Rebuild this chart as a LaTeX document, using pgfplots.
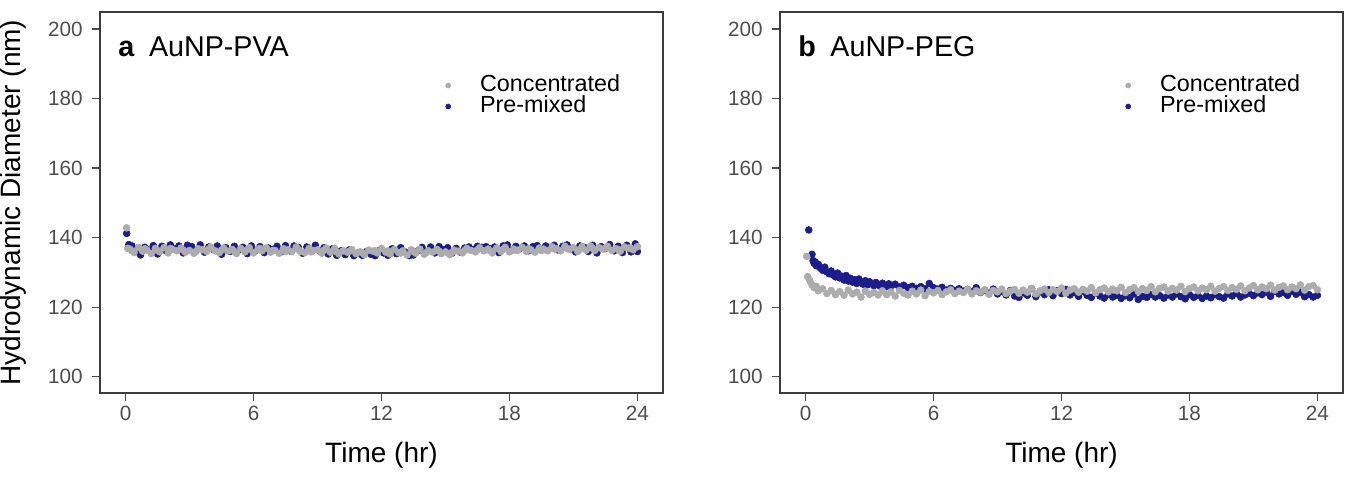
\documentclass[border=0pt]{standalone}
\usepackage{fontspec}
\setmainfont{Liberation Sans}
\usepackage{pgfplots}
\pgfplotsset{compat=1.18}
\definecolor{ptgray}{RGB}{172,172,172}
\definecolor{ptblue}{RGB}{28,28,140}
\definecolor{framec}{RGB}{60,60,60}
\definecolor{tickc}{RGB}{77,77,77}
\pgfplotsset{
  panel/.style={
    scale only axis, width=422.25pt, height=285.75pt,
    xmin=-1.2, xmax=25.2, ymin=95.3, ymax=204.9,
    xtick={0,6,12,18,24}, ytick={100,120,...,200},
    axis line style={framec, line width=0.9pt},
    tick style={tickc, line width=0.9pt},
    tick align=outside, major tick length=6pt, tick pos=left,
    ticklabel style={font=\fontsize{15.5}{15.5}\selectfont, text=tickc},
    yticklabel style={xshift=-3.5pt},
    /pgf/number format/assume math mode=true,
    xlabel={Time (hr)},
    xlabel style={font=\fontsize{21}{21}\selectfont, at={(axis description cs:0.5,-0.1811)}, anchor=base},
    legend cell align=left,
    legend image code/.code={\draw[#1] plot coordinates {(0pt,0pt)};},
    legend style={draw=none, fill=none, inner sep=0pt, outer sep=0pt,
      font=\fontsize{17.5}{17.5}\selectfont, row sep=0pt,
      nodes={inner sep=0pt, text height=12.5pt, text depth=3.25pt},
      /tikz/every odd column/.append style={column sep=22pt},
      at={(rel axis cs:0.614,0.8346)}, anchor=north west},
  },
  cser/.style={only marks, mark=*, mark size=2.6pt, color=ptgray},
  pser/.style={only marks, mark=*, mark size=2.6pt, color=ptblue},
}
\begin{document}
\begin{tikzpicture}
\useasboundingbox (0,0) rectangle (1014.75pt,359.25pt);
% ---------------- panel a ----------------
\begin{axis}[panel, at={(75pt,64.5pt)}, anchor=south west,
  ylabel={Hydrodynamic Diameter (nm)},
  ylabel style={font=\fontsize{21}{21}\selectfont, at={(axis description cs:-0.1409,0.5)}, anchor=base}]
\addlegendimage{cser, mark size=1.9pt}
\addlegendentry{Concentrated}
\addlegendimage{pser, mark size=1.9pt}
\addlegendentry{Pre-mixed}
\addplot[pser, forget plot] coordinates {
(0.05,141.2)(0.15,138.0)(0.3,137.6)(0.5,136.0)(0.7,135.0)(0.9,137.2)(1.1,136.4)(1.3,137.7)(1.5,135.3)(1.7,137.5)
(1.9,136.2)(2.1,137.9)(2.3,136.8)(2.5,137.6)(2.7,135.6)(2.9,137.8)(3.1,137.4)(3.3,136.3)(3.5,137.9)(3.7,135.8)
(3.9,137.3)(4.1,136.6)(4.3,137.6)(4.5,135.2)(4.7,137.1)(4.9,136.0)(5.1,137.5)(5.3,136.5)(5.5,137.2)(5.7,135.4)
(5.9,137.6)(6.1,136.3)(6.3,137.4)(6.5,135.7)(6.7,137.0)(6.9,136.6)(7.1,137.5)(7.3,135.9)(7.5,137.7)(7.7,136.2)
(7.9,137.6)(8.1,137.2)(8.3,135.5)(8.5,137.3)(8.7,136.4)(8.9,137.8)(9.1,136.1)(9.3,137.1)(9.5,135.3)(9.7,136.8)
(9.9,134.9)(10.1,136.2)(10.3,135.1)(10.5,136.5)(10.7,134.8)(10.9,135.6)(11.1,134.9)(11.3,136.0)(11.5,135.2)(11.7,134.8)
(11.9,136.3)(12.1,135.6)(12.3,134.9)(12.5,136.8)(12.7,135.4)(12.9,137.1)(13.1,135.9)(13.3,134.8)(13.5,135.0)(13.7,136.2)
(13.9,137.2)(14.1,136.0)(14.3,137.3)(14.5,135.6)(14.7,137.4)(14.9,136.5)(15.1,137.1)(15.3,135.5)(15.5,136.9)(15.7,135.8)
(15.9,137.0)(16.1,137.3)(16.3,136.6)(16.5,137.5)(16.7,137.2)(16.9,137.4)(17.1,136.8)(17.3,137.3)(17.5,135.7)(17.7,137.6)
(17.9,137.9)(18.1,136.4)(18.3,137.5)(18.5,136.9)(18.7,137.6)(18.9,136.2)(19.1,137.4)(19.3,137.7)(19.5,136.5)(19.7,137.6)
(19.9,137.2)(20.1,137.8)(20.3,136.4)(20.5,137.5)(20.7,137.9)(20.9,136.8)(21.1,135.9)(21.3,137.6)(21.5,137.2)(21.7,136.0)
(21.9,137.8)(22.1,135.6)(22.3,137.4)(22.5,136.9)(22.7,138.0)(22.9,136.2)(23.1,137.5)(23.3,135.7)(23.5,137.8)(23.7,135.9)
(23.9,138.2)(24.0,136.0)
};
\addplot[cser, forget plot] coordinates {
(0.05,142.8)(0.1,136.9)(0.2,136.7)(0.4,135.7)(0.6,137.2)(0.8,136.1)(1.0,136.4)(1.2,135.4)(1.4,136.9)(1.6,135.9)
(1.8,137.1)(2.0,135.6)(2.2,136.6)(2.4,136.2)(2.6,137.0)(2.8,135.8)(3.0,136.3)(3.2,135.5)(3.4,136.8)(3.6,136.5)
(3.8,136.0)(4.0,137.3)(4.2,136.2)(4.4,135.7)(4.6,137.0)(4.8,136.1)(5.0,136.6)(5.2,135.4)(5.4,136.9)(5.6,135.9)
(5.8,137.1)(6.0,135.6)(6.2,136.6)(6.4,136.2)(6.6,137.0)(6.8,135.8)(7.0,136.3)(7.2,135.5)(7.4,136.8)(7.6,136.5)
(7.8,136.0)(8.0,137.3)(8.2,136.0)(8.4,135.7)(8.6,136.9)(8.8,136.3)(9.0,136.5)(9.2,135.5)(9.4,137.0)(9.6,135.8)
(9.8,136.9)(10.0,135.3)(10.2,136.2)(10.4,135.8)(10.6,136.6)(10.8,135.4)(11.0,135.9)(11.2,135.1)(11.4,136.4)(11.6,136.1)
(11.8,135.6)(12.0,136.9)(12.2,135.8)(12.4,135.3)(12.6,136.6)(12.8,135.7)(13.0,136.2)(13.2,135.0)(13.4,136.5)(13.6,135.5)
(13.8,136.7)(14.0,135.2)(14.2,136.2)(14.4,135.8)(14.6,136.6)(14.8,135.4)(15.0,135.9)(15.2,135.1)(15.4,136.4)(15.6,136.1)
(15.8,135.6)(16.0,136.9)(16.2,136.3)(16.4,135.9)(16.6,137.1)(16.8,136.2)(17.0,136.7)(17.2,135.6)(17.4,137.0)(17.6,136.0)
(17.8,137.2)(18.0,135.9)(18.2,136.7)(18.4,136.4)(18.6,137.2)(18.8,136.0)(19.0,136.5)(19.2,135.8)(19.4,137.0)(19.6,136.7)
(19.8,136.2)(20.0,137.4)(20.2,136.8)(20.4,136.2)(20.6,137.5)(20.8,136.6)(21.0,137.1)(21.2,136.0)(21.4,137.4)(21.6,136.4)
(21.8,137.6)(22.0,136.3)(22.2,137.1)(22.4,136.7)(22.6,137.5)(22.8,136.3)(23.0,136.8)(23.2,136.1)(23.4,137.3)(23.6,137.0)
(23.8,136.5)(24.0,137.4)
(0.3,136.2)(0.9,136.8)(1.5,136.3)(2.1,136.9)(2.7,136.4)(3.3,136.0)(3.9,136.7)(4.5,136.4)(5.1,136.0)(5.7,136.5)
(6.3,136.9)(6.9,136.3)(7.5,136.0)(8.1,136.6)(8.7,135.9)(9.3,136.4)(9.9,135.9)(10.5,136.1)(11.1,135.6)(11.7,136.2)
(12.3,136.2)(12.9,135.6)(13.5,136.0)(14.1,135.7)(14.7,136.1)(15.3,135.7)(15.9,136.3)(16.5,136.5)(17.1,136.2)(17.7,136.6)
(18.3,136.3)(18.9,136.8)(19.5,136.3)(20.1,136.7)(20.7,136.9)(21.3,136.6)(21.9,136.9)(22.5,137.0)(23.1,136.6)(23.7,136.9)
};
\node[anchor=base west, font=\fontsize{21.5}{21.5}\selectfont, inner sep=0pt, text=black] at (rel axis cs:0.032,0.8845) {\textbf{a}\hspace{11pt}AuNP-PVA};
\end{axis}
% ---------------- panel b ----------------
\begin{axis}[panel, at={(585pt,64.5pt)}, anchor=south west]
\addlegendimage{cser, mark size=1.9pt}
\addlegendentry{Concentrated}
\addlegendimage{pser, mark size=1.9pt}
\addlegendentry{Pre-mixed}
\addplot[pser, forget plot] coordinates {
(0.15,142.2)(0.3,135.2)(0.35,133.4)(0.4,132.6)(0.45,133.0)(0.5,131.9)(0.6,132.3)(0.7,131.2)(0.8,130.6)(0.9,131.5)
(1.0,130.1)(1.1,129.6)(1.2,130.4)(1.3,129.2)(1.4,128.7)(1.5,129.8)(1.6,128.4)(1.7,128.9)(1.8,127.8)(1.9,129.1)
(2.0,127.5)(2.1,128.3)(2.2,127.2)(2.3,127.9)(2.4,126.8)(2.5,128.1)(2.6,127.0)(2.7,126.6)(2.8,127.6)(2.9,126.4)
(3.0,127.3)(3.1,126.7)(3.2,126.2)(3.3,127.1)(3.4,126.5)(3.5,126.0)(3.6,126.9)(3.7,126.3)(3.8,125.9)(3.9,126.7)
(4.0,126.1)(4.2,126.6)(4.4,125.8)(4.6,126.3)(4.8,125.6)(5.0,126.0)(5.2,125.4)(5.4,125.9)(5.6,125.3)(5.8,126.8)
(6.0,125.6)(6.2,125.2)(6.4,125.7)(6.6,124.9)(6.8,125.4)(7.0,124.8)(7.2,125.3)(7.4,124.6)(7.6,125.1)(7.8,124.4)
(8.0,125.6)(8.2,124.2)(8.4,124.9)(8.6,124.0)(8.8,125.2)(9.0,123.8)(9.2,124.5)(9.4,123.5)(9.6,124.8)(9.8,123.2)
(10.0,122.8)(10.2,124.1)(10.4,123.4)(10.6,125.3)(10.8,123.0)(11.0,124.4)(11.2,123.6)(11.4,125.0)(11.6,123.3)(11.8,124.7)
(12.0,123.9)(12.2,125.1)(12.4,123.5)(12.6,124.2)(12.8,123.1)(13.0,124.6)(13.2,123.4)(13.4,122.8)(13.6,124.0)(13.8,123.2)
(14.0,122.6)(14.2,123.7)(14.4,122.9)(14.6,123.4)(14.8,122.5)(15.0,123.3)(15.2,122.7)(15.4,123.8)(15.6,122.2)(15.8,123.1)
(16.0,122.8)(16.2,123.6)(16.4,122.9)(16.6,123.3)(16.8,122.6)(17.0,123.5)(17.2,122.9)(17.4,123.8)(17.6,123.0)(17.8,122.4)
(18.0,123.6)(18.2,122.8)(18.4,123.4)(18.6,122.5)(18.8,123.2)(19.0,122.7)(19.2,123.6)(19.4,123.0)(19.6,122.6)(19.8,123.8)
(20.0,123.2)(20.2,123.9)(20.4,122.9)(20.6,123.5)(20.8,124.0)(21.0,123.3)(21.2,124.1)(21.4,123.6)(21.6,124.3)(21.8,123.1)
(22.0,124.5)(22.2,123.8)(22.4,124.2)(22.6,123.4)(22.8,124.6)(23.0,123.7)(23.2,124.3)(23.4,123.0)(23.6,123.6)(23.8,122.9)
(24.0,123.4)
};
\addplot[cser, forget plot] coordinates {
(0.05,134.6)(0.1,128.8)(0.2,127.6)(0.3,126.4)(0.4,125.6)(0.5,126.0)(0.6,124.7)(0.8,125.3)(1.0,123.9)(1.2,124.8)
(1.4,123.6)(1.6,124.5)(1.8,123.4)(2.0,124.9)(2.2,123.8)(2.4,124.3)(2.6,122.9)(2.8,124.6)(3.0,123.7)(3.2,124.2)
(3.4,123.5)(3.6,124.7)(3.8,123.6)(4.0,124.4)(4.2,123.2)(4.4,124.8)(4.6,124.0)(4.8,123.5)(5.0,124.6)(5.2,123.8)
(5.4,124.9)(5.6,123.3)(5.8,124.5)(6.0,124.1)(6.2,124.8)(6.4,123.6)(6.6,124.4)(6.8,125.0)(7.0,123.9)(7.2,124.6)
(7.4,124.2)(7.6,125.1)(7.8,123.8)(8.0,124.7)(8.2,124.3)(8.4,125.0)(8.6,123.7)(8.8,124.8)(9.0,124.4)(9.2,125.2)
(9.4,123.9)(9.6,124.6)(9.8,125.1)(10.0,124.0)(10.2,124.9)(10.4,124.3)(10.6,125.4)(10.8,123.8)(11.0,124.7)(11.2,125.2)
(11.4,124.2)(11.6,125.0)(11.8,124.5)(12.0,125.5)(12.2,124.0)(12.4,124.9)(12.6,125.3)(12.8,124.3)(13.0,125.1)(13.2,124.6)
(13.4,125.6)(13.6,124.1)(13.8,125.0)(14.0,125.5)(14.2,124.4)(14.4,125.2)(14.6,124.7)(14.8,125.7)(15.0,124.2)(15.2,125.1)
(15.4,125.6)(15.6,124.5)(15.8,125.3)(16.0,124.8)(16.2,125.9)(16.4,124.4)(16.6,125.4)(16.8,125.8)(17.0,124.6)(17.2,125.4)
(17.4,124.9)(17.6,126.0)(17.8,124.5)(18.0,125.3)(18.2,125.8)(18.4,124.7)(18.6,125.5)(18.8,125.0)(19.0,126.0)(19.2,124.6)
(19.4,125.4)(19.6,125.9)(19.8,124.8)(20.0,125.6)(20.2,125.1)(20.4,126.1)(20.6,124.7)(20.8,125.5)(21.0,126.2)(21.2,125.0)
(21.4,125.8)(21.6,125.3)(21.8,126.3)(22.0,124.9)(22.2,125.7)(22.4,126.1)(22.6,125.0)(22.8,125.8)(23.0,125.3)(23.2,126.4)
(23.4,124.9)(23.6,125.9)(23.8,126.2)(24.0,125.0)
};
\node[anchor=base west, font=\fontsize{21.5}{21.5}\selectfont, inner sep=0pt, text=black] at (rel axis cs:0.032,0.8845) {\textbf{b}\hspace{11pt}AuNP-PEG};
\end{axis}
\end{tikzpicture}
\end{document}
